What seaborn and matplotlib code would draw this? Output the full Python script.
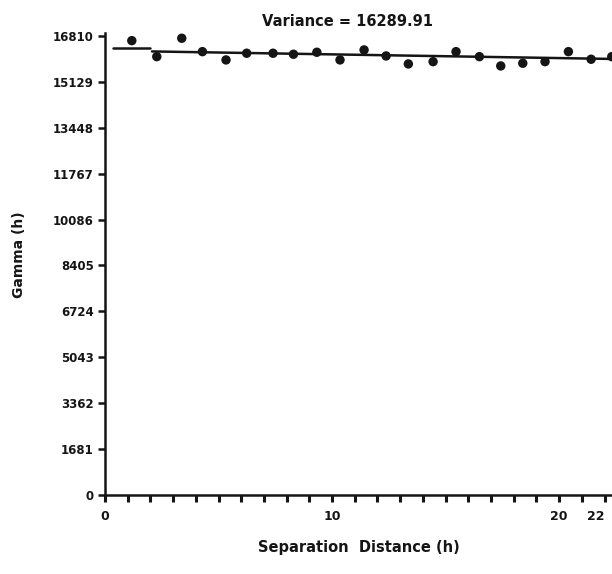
import numpy as np
import pandas as pd
import matplotlib
matplotlib.use("Agg")
import matplotlib.pyplot as plt
import seaborn as sns

lag_h = [1.18, 2.28, 3.38, 4.29, 5.33, 6.24, 7.40, 8.30, 9.33, 10.35, 11.41,
         12.38, 13.36, 14.45, 15.46, 16.49, 17.43, 18.40, 19.38, 20.41, 21.41, 22.32]
gamma_h = [16638, 16052, 16726, 16235, 15932, 16177, 16177, 16140, 16213, 15932, 16298,
           16078, 15785, 15869, 16235, 16052, 15712, 15811, 15869, 16235, 15957, 16052]

# fitted model line
model_h = [0.35, 1.98, 2.07, 22.33]
model_gamma = [16360, 16360, 16243, 15968]
model_part = ["a", "a", "b", "b"]

y_ticks = [0, 1681, 3362, 5043, 6724, 8405, 10086, 11767, 13448, 15129, 16810]
x_ticks = list(range(0, 23))
x_labels = ["0" if t == 0 else "10" if t == 10 else "20" if t == 20 else "22" if t == 22 else ""
            for t in x_ticks]

title = "Variance = 16289.91"

df = pd.DataFrame({"h": lag_h, "gamma": gamma_h})
model = pd.DataFrame({"h": model_h, "gamma": model_gamma, "part": model_part})

sns.set_style("white")
plt.rcParams['font.family'] = ['DejaVu Sans']

ink = "#151515"
fig = plt.figure(figsize=(6.12, 5.74), dpi=100)
ax = fig.add_axes([0.1716, 0.1376, 0.8284, 0.805])

sns.lineplot(data=model, x="h", y="gamma", units="part", estimator=None,
             color=ink, linewidth=1.8, ax=ax)
sns.scatterplot(data=df, x="h", y="gamma", color=ink, s=46,
                edgecolor="none", ax=ax)

ax.set_xlim(0, 22.33)
ax.set_ylim(0, 16920)

ax.set_yticks(y_ticks)
ax.set_yticklabels([str(t) for t in y_ticks], fontsize=8.5, fontweight="bold", color=ink)
ax.set_xticks(x_ticks)
ax.set_xticklabels(x_labels, fontsize=9, fontweight="bold", color=ink)
ax.get_xticklabels()[-1].set_horizontalalignment("right")
ax.tick_params(axis="y", left=True, direction="out", length=5, width=1.8, pad=3, color=ink)
ax.tick_params(axis="x", bottom=True, direction="out", length=5, width=2.2, pad=6, color=ink)

for side in ["top", "right"]:
    ax.spines[side].set_visible(False)
for side in ["left", "bottom"]:
    ax.spines[side].set_linewidth(1.8)
    ax.spines[side].set_color(ink)

ax.set_xlabel("Separation  Distance (h)", fontsize=10.5, fontweight="bold",
              labelpad=12, color=ink)
ax.set_ylabel("Gamma (h)", fontsize=10, fontweight="bold", color=ink)
ax.yaxis.set_label_coords(-0.155, 0.52)
fig.text(0.567, 0.962, title, ha="center", va="center", fontsize=10.5,
         fontweight="bold", color=ink)

fig.savefig("out.png", dpi=100, facecolor="white")
